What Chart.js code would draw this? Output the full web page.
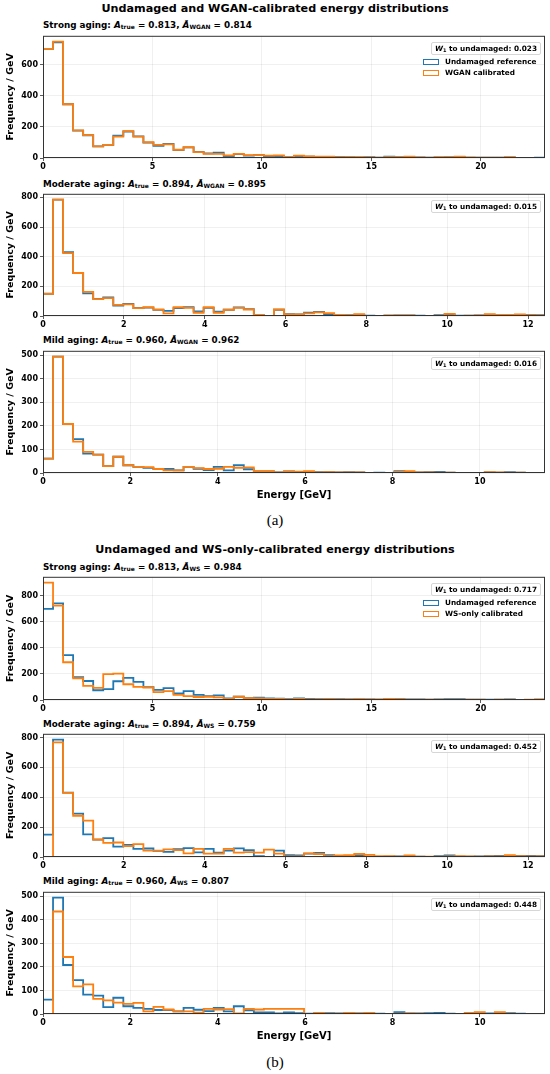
<!DOCTYPE html>
<html><head><meta charset="utf-8">
<script src="https://cdn.jsdelivr.net/npm/chart.js@4.4.0/dist/chart.umd.min.js"></script>
<style>
html,body{margin:0;padding:0;background:#fff;}
body{width:550px;height:1074px;position:relative;overflow:hidden;font-family:"DejaVu Sans",sans-serif;color:#000;}
.t{position:absolute;white-space:nowrap;line-height:1;transform:translateY(-50%);}
.title{left:0;width:550px;text-align:center;font-weight:bold;font-size:11.2px;}
.sub{left:43px;font-weight:bold;font-size:8.8px;}
.sub sub,.w1 sub{font-size:68%;vertical-align:-0.3em;line-height:0;}
.cap{left:0;width:550px;text-align:center;font-family:"Liberation Serif","DejaVu Serif",serif;font-size:15px;}
.panel{position:absolute;left:0;width:550px;}
.panel canvas{position:absolute;left:0;top:0;}
.w1{position:absolute;right:9px;font-weight:bold;font-size:7.3px;line-height:1;padding:2px 3px;background:rgba(255,255,255,0.85);border:1px solid #d6d6d6;border-radius:2px;white-space:nowrap;}
.leg{position:absolute;left:423px;font-weight:bold;font-size:7.3px;white-space:nowrap;}
.leg .row{height:11px;line-height:11px;display:flex;align-items:center;}
.leg .sw{display:inline-block;width:14px;height:4px;border:1.5px solid;margin-right:6px;}
</style>
</head><body>

<div class="t title" style="top:9px">Undamaged and WGAN-calibrated energy distributions</div>
<div class="t sub" style="top:25px">Strong aging: <i>A</i><sub>true</sub> = 0.813, <i>Â</i><sub>WGAN</sub> = 0.814</div>
<div class="t sub" style="top:184px">Moderate aging: <i>A</i><sub>true</sub> = 0.894, <i>Â</i><sub>WGAN</sub> = 0.895</div>
<div class="t sub" style="top:340px">Mild aging: <i>A</i><sub>true</sub> = 0.960, <i>Â</i><sub>WGAN</sub> = 0.962</div>
<div class="t cap" style="top:520px">(a)</div>
<div class="t title" style="top:550px">Undamaged and WS-only-calibrated energy distributions</div>
<div class="t sub" style="top:567px">Strong aging: <i>A</i><sub>true</sub> = 0.813, <i>Â</i><sub>WS</sub> = 0.984</div>
<div class="t sub" style="top:724px">Moderate aging: <i>A</i><sub>true</sub> = 0.894, <i>Â</i><sub>WS</sub> = 0.759</div>
<div class="t sub" style="top:881px">Mild aging: <i>A</i><sub>true</sub> = 0.960, <i>Â</i><sub>WS</sub> = 0.807</div>
<div class="t cap" style="top:1062px">(b)</div>

<div id="panels"></div>

<script>
// ---------------- DATA ----------------
// energy ranges [GeV] of the 50-bin histograms
const strongRange   = [0, 22.93];
const moderateRange = [0, 12.42];
const mildRange     = [0, 11.49];

// Undamaged reference (frequency / GeV per bin)
const strongRef = [700,742,345,176,146,75,84,144,170,139,99,78,91,50,68,39,30,35,12,25,15,18,12,10,6,12,8,6,6,7,5,4,5,3,8,6,4,4,3,4,6,7,3,2,2,3,4,1,1,2];
const moderateRef = [150,785,431,290,152,116,126,70,81,54,57,41,34,53,60,31,55,29,42,58,46,5,0,42,12,11,22,28,12,5,6,8,2,0,3,4,4,2,1,6,10,2,3,4,6,7,6,8,8,5];
const mildRef = [61,494,208,144,82,78,29,69,33,26,22,17,17,11,26,18,12,26,11,33,16,7,7,3,7,4,2,4,4,3,4,3,0,1,0,8,3,3,4,5,1,0,0,0,3,1,4,1,0,0];

// WGAN calibrated
const strongWgan = [701,747,345,177,147,74,84,137,173,137,101,84,88,53,69,38,27,27,17,27,19,19,15,17,6,15,11,8,8,6,5,6,4,3,6,5,8,4,3,5,6,9,4,2,2,2,5,1,1,1];
const moderateWgan = [149,785,424,290,163,114,121,75,79,53,59,44,18,59,55,22,59,22,42,55,44,7,0,44,11,11,18,25,20,8,5,12,1,0,4,4,4,1,1,3,15,1,3,4,12,8,8,10,6,4];
const mildWgan = [61,494,208,133,90,78,29,69,33,26,25,17,11,11,26,21,17,18,26,22,24,8,8,3,7,6,8,3,4,3,3,3,0,0,0,5,8,3,3,2,1,0,0,0,4,3,1,1,0,0];

// WS-only calibrated
const strongWs = [901,724,290,167,109,93,199,202,121,101,96,61,68,40,30,23,25,20,8,25,15,13,8,8,5,8,5,5,6,4,5,6,4,5,8,6,3,2,2,3,3,2,2,2,1,2,2,1,2,5];
const moderateWs = [0,767,429,276,243,117,95,97,73,86,42,42,51,46,24,55,22,22,55,29,33,29,49,22,4,4,24,20,6,10,12,20,14,5,5,3,10,2,2,2,4,5,4,3,4,4,12,5,4,4];
const mildWs = [0,435,242,117,126,64,58,48,43,47,11,30,19,11,11,6,22,19,21,3,22,19,22,22,22,22,0,5,2,2,5,3,5,0,0,1,3,1,0,0,0,0,5,8,0,8,1,0,0,0];

const refLabel = 'Undamaged reference';
const w1Values = ['0.023','0.015','0.016','0.717','0.452','0.448'];

// ---------------- DRAWING ----------------
const FONT = '"DejaVu Sans", sans-serif';
const BLUE = '#1f77b4', ORANGE = '#ff7f0e';

function stepPoints(values, range) {
  const w = (range[1] - range[0]) / values.length;
  const pts = [{x: range[0], y: 0}];
  values.forEach((v, i) => pts.push({x: range[0] + i * w, y: v}));
  pts.push({x: range[1], y: 0});
  return pts;
}

function fixedTicks(step) {
  return function (s) {
    const t = [];
    for (let v = 0; v <= s.max + 1e-9; v += step) t.push({value: v});
    s.ticks = t;
  };
}

const framePlugin = {
  id: 'frame',
  afterDraw(chart) {
    const {ctx, chartArea: a} = chart;
    ctx.save();
    ctx.strokeStyle = '#333';
    ctx.lineWidth = 1;
    ctx.strokeRect(a.left + 0.5, a.top + 0.5, a.width - 1, a.height - 1);
    ctx.restore();
  }
};

const panels = [
  {plotTop: 34,  plotBottom: 158,  range: strongRange,   ref: strongRef,   cal: strongWgan,   calLabel: 'WGAN calibrated',    xStep: 5, yStep: 200, xTitle: false, legend: true},
  {plotTop: 192, plotBottom: 316,  range: moderateRange, ref: moderateRef, cal: moderateWgan, calLabel: 'WGAN calibrated',    xStep: 2, yStep: 200, xTitle: false, legend: false},
  {plotTop: 349, plotBottom: 473,  range: mildRange,     ref: mildRef,     cal: mildWgan,     calLabel: 'WGAN calibrated',    xStep: 2, yStep: 100, xTitle: true,  legend: false},
  {plotTop: 575, plotBottom: 700,  range: strongRange,   ref: strongRef,   cal: strongWs,     calLabel: 'WS-only calibrated', xStep: 5, yStep: 200, xTitle: false, legend: true},
  {plotTop: 732, plotBottom: 857,  range: moderateRange, ref: moderateRef, cal: moderateWs,   calLabel: 'WS-only calibrated', xStep: 2, yStep: 200, xTitle: false, legend: false},
  {plotTop: 890, plotBottom: 1014, range: mildRange,     ref: mildRef,     cal: mildWs,       calLabel: 'WS-only calibrated', xStep: 2, yStep: 100, xTitle: true,  legend: false}
];

const host = document.getElementById('panels');
const PAD_TOP = 5;

panels.forEach((p, idx) => {
  const axisH = p.xTitle ? 30 : 16;
  const h = PAD_TOP + (p.plotBottom - p.plotTop) + axisH;
  const div = document.createElement('div');
  div.className = 'panel';
  div.style.top = (p.plotTop - PAD_TOP) + 'px';
  div.style.height = h + 'px';
  const cv = document.createElement('canvas');
  cv.width = 550; cv.height = h;
  cv.style.width = '550px'; cv.style.height = h + 'px';
  div.appendChild(cv);

  const box = document.createElement('div');
  box.className = 'w1';
  box.style.top = (PAD_TOP + 8) + 'px';
  box.innerHTML = '<i>W</i><sub>1</sub> to undamaged: ' + w1Values[idx];
  div.appendChild(box);

  if (p.legend) {
    const lg = document.createElement('div');
    lg.className = 'leg';
    lg.style.top = (PAD_TOP + 22) + 'px';
    lg.innerHTML = '<div class="row"><span class="sw" style="border-color:' + BLUE + '"></span>' + refLabel + '</div>' +
                   '<div class="row"><span class="sw" style="border-color:' + ORANGE + '"></span>' + p.calLabel + '</div>';
    div.appendChild(lg);
  }
  host.appendChild(div);

  const ymax = 1.05 * Math.max(...p.ref, ...p.cal);
  const tickFont = {family: FONT, size: 8, weight: 'bold'};

  new Chart(cv, {
    type: 'line',
    data: {
      datasets: [
        {label: refLabel, data: stepPoints(p.ref, p.range), borderColor: BLUE, borderWidth: 1.8,
         stepped: 'before', pointRadius: 0, fill: false, order: 2},
        {label: p.calLabel, data: stepPoints(p.cal, p.range), borderColor: ORANGE, borderWidth: 1.8,
         stepped: 'before', pointRadius: 0, fill: false, order: 1}
      ]
    },
    options: {
      responsive: false,
      animation: false,
      layout: {padding: {top: PAD_TOP, right: 5, left: 0, bottom: 0}},
      plugins: {legend: {display: false}, tooltip: {enabled: false}},
      scales: {
        x: {
          type: 'linear', min: p.range[0], max: p.range[1],
          afterBuildTicks: fixedTicks(p.xStep),
          ticks: {color: '#000', font: tickFont, padding: 1, maxRotation: 0, autoSkip: false},
          grid: {color: 'rgba(0,0,0,0.08)', lineWidth: 0.8, tickColor: '#333', tickLength: 3},
          border: {display: false},
          title: {display: p.xTitle, text: 'Energy [GeV]', color: '#000', font: {family: FONT, size: 10, weight: 'bold'}, padding: {top: 2, bottom: 2}},
          afterFit(s) { s.height = axisH; }
        },
        y: {
          type: 'linear', min: 0, max: ymax,
          afterBuildTicks: fixedTicks(p.yStep),
          ticks: {color: '#000', font: tickFont, padding: 2, autoSkip: false},
          grid: {color: 'rgba(0,0,0,0.08)', lineWidth: 0.8, tickColor: '#333', tickLength: 3},
          border: {display: false},
          title: {display: true, text: 'Frequency / GeV', color: '#000', font: {family: FONT, size: 9.5, weight: 'bold'}, padding: {top: 5, bottom: 0}},
          afterFit(s) { s.width = 43; }
        }
      }
    },
    plugins: [framePlugin]
  });
});
</script>
</body></html>
